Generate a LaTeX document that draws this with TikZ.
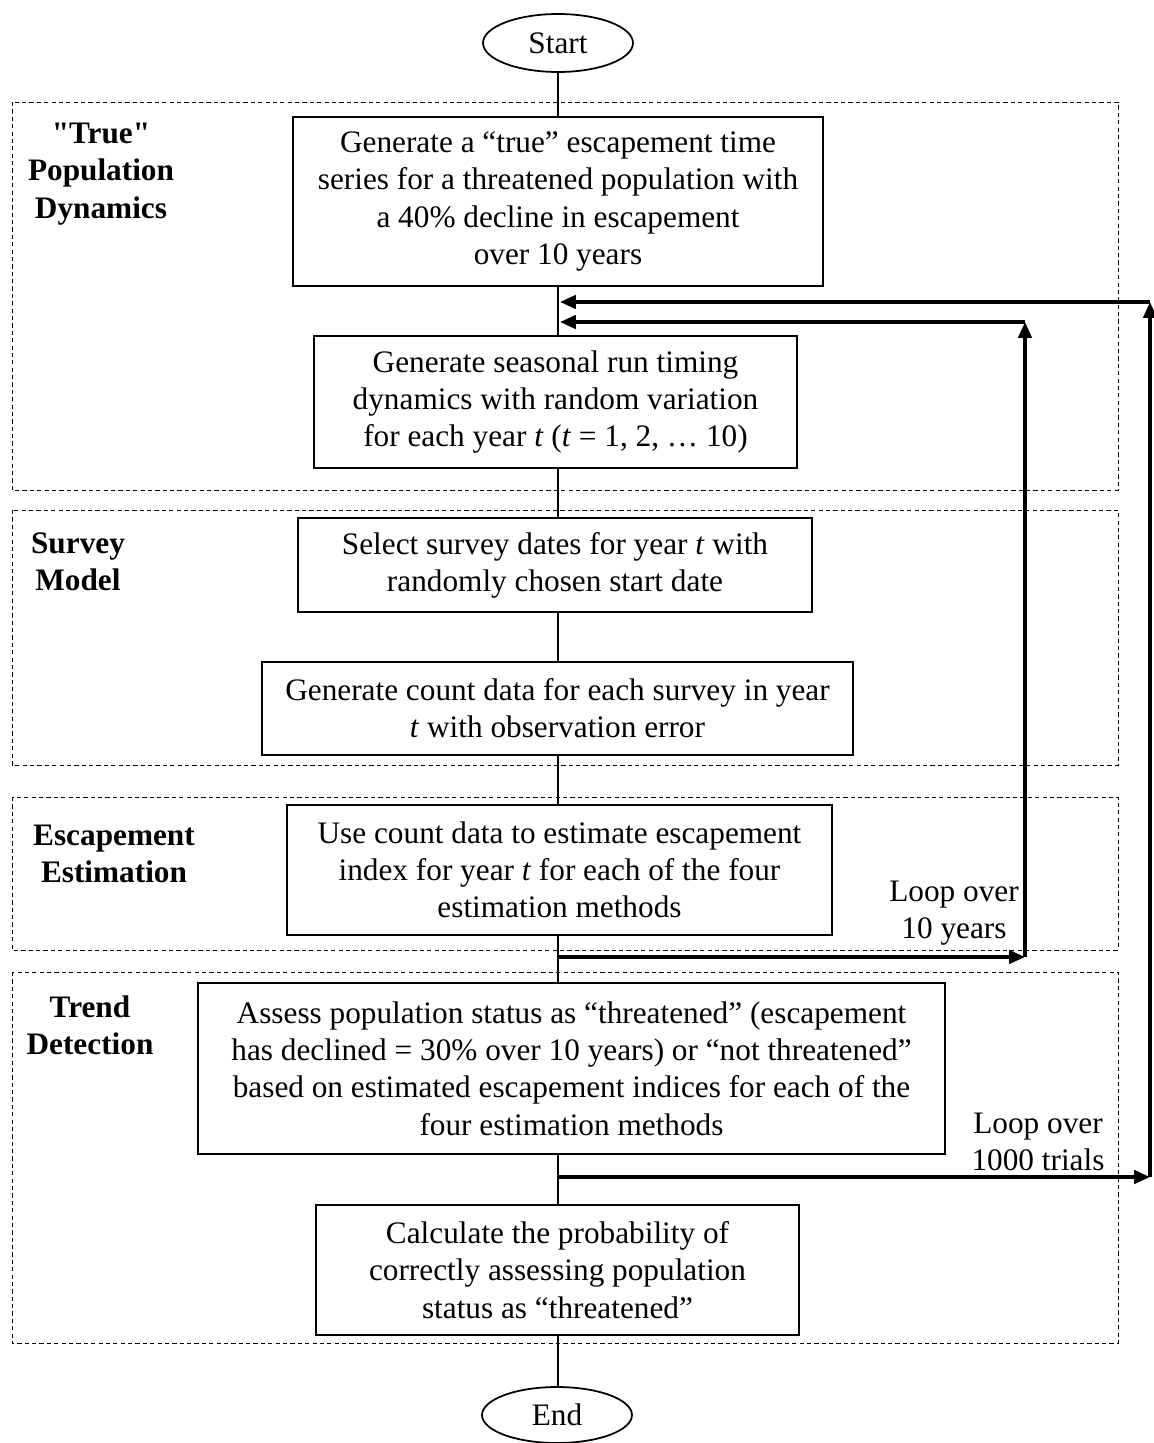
\documentclass[tikz,border=0pt]{standalone}
\usepackage{fontspec}
\setmainfont{Liberation Serif}
\newfontfamily\rawserif{Liberation Serif}
\usetikzlibrary{arrows.meta,shapes.geometric}

\begin{document}
\begin{tikzpicture}[x=0.02cm,y=-0.02cm,
    every node/.style={font=\fontsize{17.8}{21.2}\selectfont},
    proc/.style={draw,line width=1.1pt,align=center,inner sep=2pt},
    term/.style={draw,ellipse,line width=1pt,minimum width=3cm},
    region/.style={draw,line width=0.5pt,dash pattern=on 2.4pt off 1.8pt},
    stage/.style={font=\fontsize{17.8}{21.2}\selectfont\bfseries,align=center},
    flow/.style={line width=0.8pt},
    loop/.style={line width=1.8pt,-{Triangle[length=9pt,width=7.6pt]}}]
    \useasboundingbox (0,0) rectangle (1153,1443);
    \coordinate (ax) at (558,0);
    % stage regions
    \draw[region] (12,102) rectangle (1118,490);
    \draw[region] (12,510) rectangle (1118,765);
    \draw[region] (12,797) rectangle (1118,950);
    \draw[region] (12,972) rectangle (1118,1343);
    \node[stage] (sPop) at (101,174) {{\rawserif\bfseries "True"}\\Population\\Dynamics};
    \node[stage] (sSur) at (78,562) {Survey\\Model};
    \node[stage] (sEst) at (114,854) {Escapement\\Estimation};
    \node[stage] (sTre) at (90,1025) {Trend\\Detection};
    % flow chart
    \node[term,minimum height=1.16cm] (start) at (558,43) {Start};
    \node[proc,minimum width=10.6cm,minimum height=3.38cm] (b1) at (558,201.5)
        {Generate a “true” escapement time\\series for a threatened population with\\a 40\% decline in escapement\\over 10 years};
    \node[proc,minimum width=9.66cm,minimum height=2.64cm] (b2) at (555.5,402)
        {Generate seasonal run timing\\dynamics with random variation\\for each year \textit{t} (\textit{t} = 1, 2, … 10)};
    \node[proc,minimum width=10.28cm,minimum height=1.88cm] (b3) at (555,565)
        {Select survey dates for year \textit{t} with\\randomly chosen start date};
    \node[proc,minimum width=11.82cm,minimum height=1.86cm] (b4) at (557.5,708.5)
        {Generate count data for each survey in year\\\textit{t} with observation error};
    \node[proc,minimum width=10.9cm,minimum height=2.6cm] (b5) at (559.5,870)
        {Use count data to estimate escapement\\index for year \textit{t} for each of the four\\estimation methods};
    \node[proc,minimum width=14.94cm,minimum height=3.42cm] (b6) at (571.5,1068.5)
        {Assess population status as “threatened” (escapement\\has declined = 30\% over 10 years) or “not threatened”\\based on estimated escapement indices for each of the\\four estimation methods};
    \node[proc,minimum width=9.66cm,minimum height=2.6cm] (b7) at (557.5,1270)
        {Calculate the probability of\\correctly assessing population\\status as “threatened”};
    \node[term,minimum height=1.12cm] (end) at (557,1415) {End};
    \draw[flow] (start.south -| ax) -- (b1.north -| ax);
    \draw[flow] (b1.south -| ax) -- (b2.north -| ax);
    \draw[flow] (b2.south -| ax) -- (b3.north -| ax);
    \draw[flow] (b3.south -| ax) -- (b4.north -| ax);
    \draw[flow] (b4.south -| ax) -- (b5.north -| ax);
    \draw[flow] (b5.south -| ax) -- (b6.north -| ax);
    \draw[flow] (b6.south -| ax) -- (b7.north -| ax);
    \draw[flow] (b7.south -| ax) -- (end.north -| ax);
    % loops
    \coordinate (yOut) at (558,957);
    \coordinate (yUp) at (1025,957);
    \coordinate (yTop) at (1025,322);
    \coordinate (yIn) at (560,322);
    \coordinate (tOut) at (558,1177);
    \coordinate (tUp) at (1150,1177);
    \coordinate (tTop) at (1150,302);
    \coordinate (tIn) at (560,302);
    \draw[loop] (yOut) -- (yUp);
    \draw[loop] (yUp) -- (yTop);
    \draw[loop] (yTop) -- (yIn);
    \draw[loop] (tOut) -- (tUp);
    \draw[loop] (tUp) -- (tTop);
    \draw[loop] (tTop) -- (tIn);
    \node[align=center] (lYears) at (954,913) {Loop over\\10 years};
    \node[align=center] (lTrials) at (1038,1142) {Loop over\\1000 trials};
\end{tikzpicture}
\end{document}
